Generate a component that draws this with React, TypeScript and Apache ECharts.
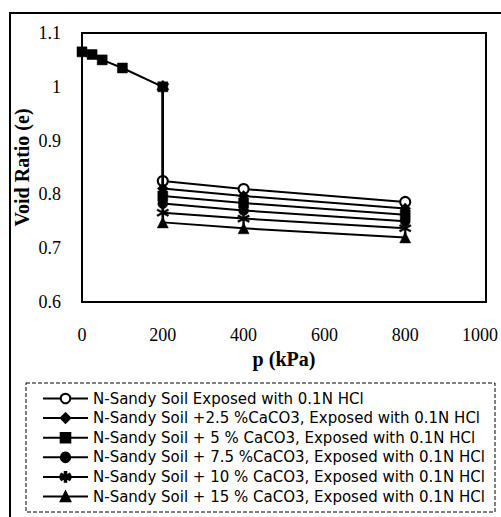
import React, { useEffect, useRef } from "react";
import * as echarts from "echarts";

const initialP = [0, 25, 50, 100, 200];
const initialE = [1.065, 1.06, 1.05, 1.035, 1.0];

const laterP = [200, 400, 800];
const seriesNames = [
  "N-Sandy Soil Exposed with 0.1N HCl",
  "N-Sandy Soil +2.5 %CaCO3, Exposed with 0.1N HCl",
  "N-Sandy Soil + 5 % CaCO3, Exposed with 0.1N HCl",
  "N-Sandy Soil + 7.5 %CaCO3, Exposed with 0.1N HCl",
  "N-Sandy Soil + 10 % CaCO3, Exposed with 0.1N HCl",
  "N-Sandy Soil + 15 % CaCO3, Exposed with 0.1N HCl",
];
const e0 = [0.825, 0.81, 0.786];
const e25 = [0.811, 0.797, 0.774];
const e5 = [0.797, 0.784, 0.762];
const e75 = [0.783, 0.77, 0.75];
const e10 = [0.766, 0.755, 0.737];
const e15 = [0.748, 0.737, 0.72];
const seriesValues = [e0, e25, e5, e75, e10, e15];

const yTicks = [0.6, 0.7, 0.8, 0.9, 1.0, 1.1];
const xTicks = [0, 200, 400, 600, 800, 1000];

const STAR =
  "path://M-1.5,-10L1.5,-10L1.5,10L-1.5,10Z" +
  "M7.91,6.3L-9.41,-3.7L-7.91,-6.3L9.41,3.7Z" +
  "M-9.41,3.7L7.91,-6.3L9.41,-3.7L-7.91,6.3Z";

const symbols = ["emptyCircle", "diamond", "rect", "circle", STAR, "triangle"];
const sizes = [10, 11, 10, 10, 12, 11];

export default function App() {
  const ref = useRef<HTMLDivElement>(null);
  useEffect(() => {
    if (!ref.current) return;
    const chart = echarts.init(ref.current, undefined, { renderer: "svg" });
    const series = seriesValues.map((vals, i) => {
      const data: any[] = [];
      if (i === 2) {
        initialP.forEach((p, k) => data.push([p, initialE[k]]));
      } else {
        data.push({
          value: [initialP[initialP.length - 1], initialE[initialE.length - 1]],
          symbol: i === 4 ? STAR : "none",
        });
      }
      laterP.forEach((p, k) => data.push([p, vals[k]]));
      return {
        name: seriesNames[i],
        type: "line",
        data,
        symbol: symbols[i],
        symbolSize: sizes[i],
        showSymbol: true,
        lineStyle: { color: "#000", width: 2 },
        itemStyle: {
          color: "#000",
          borderColor: "#000",
          borderWidth: i === 0 ? 2 : 0.5,
        },
        emphasis: { disabled: true },
        z: 2 + i,
      };
    });
    const lastX = xTicks[xTicks.length - 1];
    chart.setOption({
      animation: false,
      backgroundColor: "#fff",
      grid: {
        left: 82,
        right: 15,
        top: 33,
        bottom: 215,
        show: true,
        borderColor: "#000",
        borderWidth: 2,
        containLabel: false,
        outerBoundsMode: "none",
      },
      xAxis: {
        type: "value",
        min: xTicks[0],
        max: lastX,
        interval: 200,
        name: "p (kPa)",
        nameLocation: "middle",
        nameGap: 47,
        nameMoveOverlap: false,
        nameTextStyle: {
          fontFamily: "Liberation Serif",
          fontWeight: "bold",
          fontSize: 20,
          color: "#000",
        },
        axisLine: { show: false },
        axisTick: { show: false },
        splitLine: { show: false },
        axisLabel: {
          margin: 24,
          fontFamily: "Liberation Serif",
          fontSize: 18,
          color: "#000",
          formatter: (v: number) => (v === lastX ? "{last|" + v + "}" : String(v)),
          rich: {
            last: {
              fontFamily: "Liberation Serif",
              fontSize: 18,
              color: "#000",
              padding: [0, 12, 0, 0],
            },
          },
        },
      },
      yAxis: {
        type: "value",
        min: yTicks[0],
        max: yTicks[yTicks.length - 1],
        interval: 0.1,
        name: "Void Ratio (e)",
        nameLocation: "middle",
        nameGap: 50,
        nameMoveOverlap: false,
        nameTextStyle: {
          fontFamily: "Liberation Serif",
          fontWeight: "bold",
          fontSize: 20,
          color: "#000",
        },
        axisLine: { show: false },
        axisTick: { show: false },
        splitLine: { show: false },
        axisLabel: {
          margin: 21,
          fontFamily: "Liberation Serif",
          fontSize: 18,
          color: "#000",
          formatter: (v: number) => String(+v.toFixed(1)),
        },
      },
      legend: {
        orient: "vertical",
        left: 42,
        top: 391,
        padding: 0,
        itemWidth: 45,
        itemHeight: 12,
        itemGap: 4.6,
        textStyle: {
          fontFamily: "DejaVu Sans",
          fontSize: 15,
          lineHeight: 15,
          color: "#000",
        },
        data: seriesNames,
      },
      graphic: [
        {
          type: "rect",
          shape: { x: 10, y: 13, width: 520, height: 540 },
          style: { fill: "none", stroke: "#000", lineWidth: 2 },
          silent: true,
          z: -1,
        },
        {
          type: "rect",
          shape: { x: 26, y: 383, width: 469, height: 129 },
          style: { fill: "none", stroke: "#000", lineWidth: 1, lineDash: [4, 2] },
          silent: true,
          z: -1,
        },
      ],
      series,
    });
    return () => chart.dispose();
  }, []);
  return (
    <div
      ref={ref}
      style={{ position: "fixed", left: 0, top: 0, width: 501, height: 517 }}
    />
  );
}
